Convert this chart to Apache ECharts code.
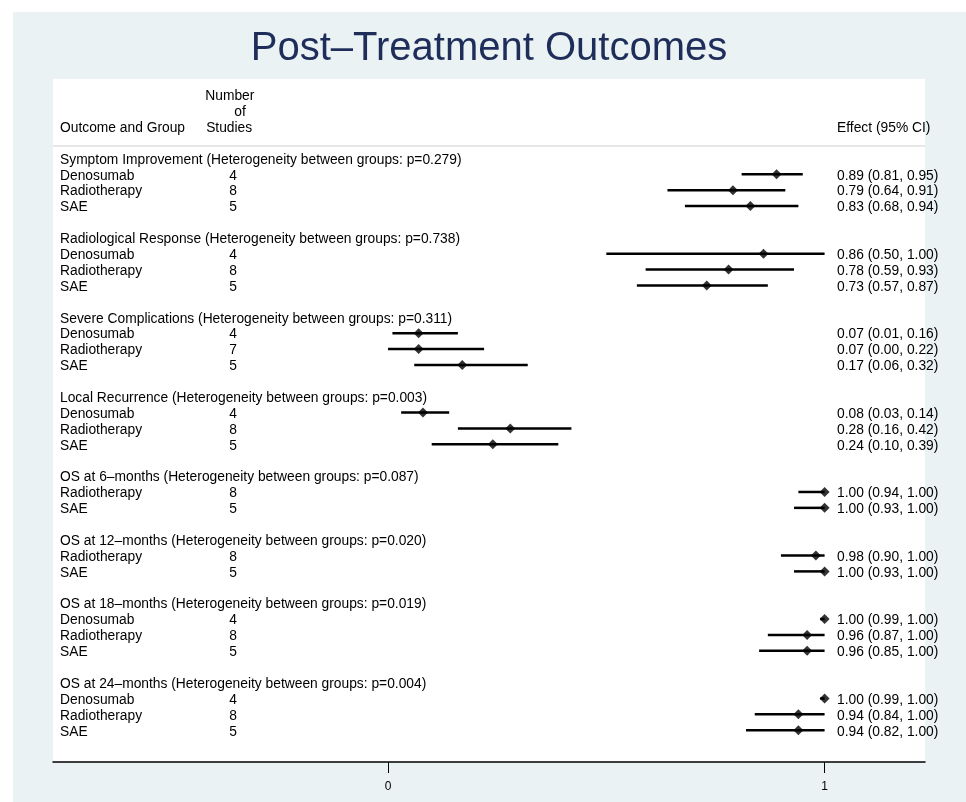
<!DOCTYPE html>
<html>
<head>
<meta charset="utf-8">
<script src="https://cdn.jsdelivr.net/npm/echarts@6/dist/echarts.min.js"></script>
<style>html,body{margin:0;padding:0;background:#fff;}#chart{width:966px;height:802px;}</style>
</head>
<body>
<div id="chart"></div>
<script>
const chartTitle = "Post\u2013Treatment Outcomes";
const outcomeTitles = [
  "Symptom Improvement (Heterogeneity between groups: p=0.279)",
  "Radiological Response (Heterogeneity between groups: p=0.738)",
  "Severe Complications (Heterogeneity between groups: p=0.311)",
  "Local Recurrence (Heterogeneity between groups: p=0.003)",
  "OS at 6\u2013months (Heterogeneity between groups: p=0.087)",
  "OS at 12\u2013months (Heterogeneity between groups: p=0.020)",
  "OS at 18\u2013months (Heterogeneity between groups: p=0.019)",
  "OS at 24\u2013months (Heterogeneity between groups: p=0.004)"
];
const groupNames = [
  ["Denosumab", "Radiotherapy", "SAE"],
  ["Denosumab", "Radiotherapy", "SAE"],
  ["Denosumab", "Radiotherapy", "SAE"],
  ["Denosumab", "Radiotherapy", "SAE"],
  ["Radiotherapy", "SAE"],
  ["Radiotherapy", "SAE"],
  ["Denosumab", "Radiotherapy", "SAE"],
  ["Denosumab", "Radiotherapy", "SAE"]
];
const studies = [[4, 8, 5], [4, 8, 5], [4, 7, 5], [4, 8, 5], [8, 5], [8, 5], [4, 8, 5], [4, 8, 5]];
const effects = [[0.89, 0.79, 0.83], [0.86, 0.78, 0.73], [0.07, 0.07, 0.17], [0.08, 0.28, 0.24], [1.00, 1.00], [0.98, 1.00], [1.00, 0.96, 0.96], [1.00, 0.94, 0.94]];
const lowerCI = [[0.81, 0.64, 0.68], [0.50, 0.59, 0.57], [0.01, 0.00, 0.06], [0.03, 0.16, 0.10], [0.94, 0.93], [0.90, 0.93], [0.99, 0.87, 0.85], [0.99, 0.84, 0.82]];
const upperCI = [[0.95, 0.91, 0.94], [1.00, 0.93, 0.87], [0.16, 0.22, 0.32], [0.14, 0.42, 0.39], [1.00, 1.00], [1.00, 1.00], [1.00, 1.00, 1.00], [1.00, 1.00, 1.00]];
const xTickValues = [0, 1];
const headerLabels = { group: "Outcome and Group", studies: ["Number", "of", "Studies"], effect: "Effect (95% CI)" };

// layout (text columns in axis units)
const X_MIN = -0.7675, X_MAX = 1.230;
const COL_LABEL = -0.7514, COL_STUDIES = -0.355, COL_EFFECT = 1.0286;
const FONT = '"Liberation Sans", Arial, Helvetica, sans-serif';

const textItems = []; // [x, row, text, align]
const ciData = [];
const pointData = [];

textItems.push([COL_LABEL, -2, headerLabels.group, 'left']);
textItems.push([-0.3625, -4, headerLabels.studies[0], 'center']);
textItems.push([-0.339, -3, headerLabels.studies[1], 'center']);
textItems.push([-0.364, -2, headerLabels.studies[2], 'center']);
textItems.push([COL_EFFECT, -2, headerLabels.effect, 'left']);

let row = 0;
outcomeTitles.forEach((t, s) => {
  textItems.push([COL_LABEL, row, t, 'left']);
  groupNames[s].forEach((g, i) => {
    const r = row + 1 + i;
    textItems.push([COL_LABEL, r, g, 'left']);
    textItems.push([COL_STUDIES, r, String(studies[s][i]), 'center']);
    const e = effects[s][i], lo = lowerCI[s][i], hi = upperCI[s][i];
    textItems.push([COL_EFFECT, r, e.toFixed(2) + " (" + lo.toFixed(2) + ", " + hi.toFixed(2) + ")", 'left']);
    ciData.push([lo, hi, r]);
    pointData.push([e, r]);
  });
  row += groupNames[s].length + 2;
});

const chart = echarts.init(document.getElementById('chart'), null, { renderer: 'canvas' });
chart.setOption({
  animation: false,
  backgroundColor: '#ffffff',
  graphic: [
    { type: 'rect', z: -10, shape: { x: 13, y: 12, width: 953, height: 790 }, style: { fill: '#eaf2f3' }, silent: true },
    { type: 'text', z: 10, x: 489, y: 49, style: { text: chartTitle, align: 'center', verticalAlign: 'middle', fontSize: 40, fontFamily: FONT, fill: '#1e2d5a' } }
  ],
  grid: { left: 53, top: 79, width: 872, height: 683, show: true, backgroundColor: '#ffffff', borderWidth: 0, containLabel: false },
  xAxis: {
    type: 'value', min: X_MIN, max: X_MAX, position: 'bottom',
    axisLine: { show: true, onZero: false, lineStyle: { color: '#000', width: 1.5 } },
    axisTick: { show: true, length: 11, lineStyle: { color: '#000', width: 1 }, customValues: xTickValues },
    axisLabel: { show: true, customValues: xTickValues, margin: 19, fontSize: 12, fontFamily: FONT, color: '#000' },
    splitLine: { show: false }
  },
  yAxis: { type: 'value', min: -5, max: 38, inverse: true, show: false, splitLine: { show: false } },
  series: [
    {
      type: 'custom', name: 'separator', silent: true,
      data: [[X_MIN, -0.78]],
      renderItem: function (params, api) {
        const a = api.coord([X_MIN, -0.78]);
        const b = api.coord([X_MAX, -0.78]);
        return { type: 'line', shape: { x1: a[0], y1: a[1], x2: b[0], y2: b[1] }, style: { stroke: '#d0d0d0', lineWidth: 1 } };
      }
    },
    {
      type: 'custom', name: 'CI', silent: true,
      data: ciData,
      encode: { x: [0, 1], y: 2 },
      renderItem: function (params, api) {
        const a = api.coord([api.value(0), api.value(2)]);
        const b = api.coord([api.value(1), api.value(2)]);
        return { type: 'line', shape: { x1: a[0], y1: a[1], x2: b[0], y2: b[1] }, style: { stroke: '#000', lineWidth: 2.5 } };
      }
    },
    {
      type: 'scatter', name: 'Effect', silent: true,
      data: pointData, symbol: 'diamond', symbolSize: 10,
      itemStyle: { color: '#000' }, z: 5
    },
    {
      type: 'custom', name: 'text', silent: true,
      data: textItems.map(d => [d[0], d[1]]),
      renderItem: function (params, api) {
        const it = textItems[params.dataIndex];
        const p = api.coord([it[0], it[1]]);
        return { type: 'text', x: p[0], y: p[1] + 1.5, style: { text: it[2], align: it[3], verticalAlign: 'middle', fontSize: 13.8, fontFamily: FONT, fill: '#000' } };
      }
    }
  ]
});
</script>
</body>
</html>
